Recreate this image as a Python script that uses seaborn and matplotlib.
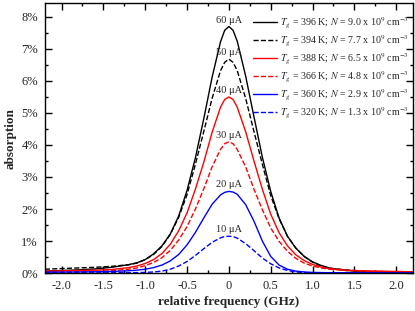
import matplotlib
matplotlib.use("Agg")
import matplotlib.pyplot as plt
import seaborn as sns
from matplotlib.ticker import MultipleLocator, PercentFormatter

# relative frequency (GHz)
freq = [-2.2, -2.0, -1.8, -1.6, -1.4, -1.2, -1.1, -1.0, -0.9, -0.8, -0.7, -0.6,
        -0.5, -0.4, -0.3, -0.2, -0.1, -0.05, 0.0, 0.05, 0.1, 0.2, 0.3, 0.4, 0.5,
        0.6, 0.7, 0.8, 0.9, 1.0, 1.1, 1.2, 1.4, 1.6, 1.8, 2.0, 2.2]

# absorption (%) for each discharge current
abs_60 = [0.06, 0.08, 0.10, 0.13, 0.18, 0.26, 0.32, 0.42, 0.60, 0.85, 1.22, 1.78,
          2.58, 3.60, 4.82, 6.12, 7.22, 7.58, 7.70, 7.58, 7.24, 6.16, 4.88, 3.62,
          2.55, 1.72, 1.15, 0.78, 0.52, 0.35, 0.24, 0.16, 0.08, 0.05, 0.03, 0.02, 0.02]
abs_50 = [0.12, 0.14, 0.16, 0.18, 0.21, 0.26, 0.31, 0.42, 0.58, 0.83, 1.21, 1.74,
          2.45, 3.40, 4.42, 5.46, 6.32, 6.58, 6.68, 6.58, 6.32, 5.46, 4.42, 3.40,
          2.42, 1.70, 1.15, 0.78, 0.52, 0.34, 0.22, 0.15, 0.10, 0.05, 0.03, 0.02, 0.02]
abs_40 = [0.06, 0.07, 0.08, 0.09, 0.11, 0.17, 0.22, 0.30, 0.42, 0.61, 0.90, 1.32,
          1.88, 2.62, 3.46, 4.40, 5.18, 5.42, 5.50, 5.42, 5.18, 4.42, 3.50, 2.62,
          1.84, 1.26, 0.85, 0.57, 0.39, 0.27, 0.19, 0.14, 0.09, 0.07, 0.06, 0.05, 0.04]
abs_30 = [0.03, 0.035, 0.04, 0.05, 0.07, 0.12, 0.16, 0.23, 0.33, 0.48, 0.71, 1.03,
          1.45, 2.00, 2.63, 3.32, 3.86, 4.04, 4.10, 4.04, 3.86, 3.32, 2.62, 1.98,
          1.41, 0.99, 0.68, 0.46, 0.31, 0.22, 0.16, 0.12, 0.08, 0.06, 0.05, 0.04, 0.03]
abs_20 = [0.03, 0.03, 0.035, 0.04, 0.05, 0.07, 0.09, 0.12, 0.17, 0.25, 0.38, 0.58,
          0.88, 1.27, 1.72, 2.15, 2.44, 2.52, 2.55, 2.53, 2.46, 2.14, 1.62, 1.00,
          0.52, 0.25, 0.12, 0.06, 0.035, 0.02, 0.015, 0.01, 0.01, 0.01, 0.005, 0.005, 0.005]
abs_10 = [0.005, 0.005, 0.005, 0.005, 0.01, 0.01, 0.015, 0.02, 0.035, 0.06, 0.12, 0.22,
          0.36, 0.55, 0.76, 0.96, 1.10, 1.14, 1.15, 1.14, 1.09, 0.92, 0.70, 0.47,
          0.29, 0.16, 0.08, 0.035, 0.015, 0.005, 0.0, 0.0, 0.0, 0.0, 0.0, 0.0, 0.0]

currents = ["60 \u03bcA", "50 \u03bcA", "40 \u03bcA", "30 \u03bcA", "20 \u03bcA", "10 \u03bcA"]
temps = [396, 394, 388, 366, 360, 320]
densities = ["9.0", "7.7", "6.5", "4.8", "2.9", "1.3"]
series = [abs_60, abs_50, abs_40, abs_30, abs_20, abs_10]
colors = ["black", "black", "red", "red", "blue", "blue"]
styles = ["-", "--", "-", "--", "-", "--"]

sns.set_style("ticks")
plt.rcParams["font.family"] = ["Liberation Serif", "DejaVu Serif"]
plt.rcParams["mathtext.fontset"] = "stix"

fig = plt.figure(figsize=(4.15, 3.11), dpi=100)
ax = fig.add_axes([0.108, 0.122, 0.887, 0.868])

for y, c, ls, t, n, cur in zip(series, colors, styles, temps, densities, currents):
    lab = r"$T_g$ = %d K; $N$ = %s x 10$^9$ cm$^{-3}$" % (t, n)
    sns.lineplot(x=freq, y=y, color=c, linestyle=ls, linewidth=1.0, label=lab, ax=ax)
    ax.text(0, max(y) + 0.06, cur, ha="center", va="bottom", fontsize=7.5)

ax.set_xlim(-2.2, 2.2)
ax.set_ylim(0, 8.43)
ax.xaxis.set_major_locator(MultipleLocator(0.5))
ax.xaxis.set_minor_locator(MultipleLocator(0.25))
ax.yaxis.set_major_locator(MultipleLocator(1))
ax.yaxis.set_minor_locator(MultipleLocator(0.5))
ax.yaxis.set_major_formatter(PercentFormatter(xmax=100, decimals=0))
ax.set_xticks([-2.0, -1.5, -1.0, -0.5, 0, 0.5, 1.0, 1.5, 2.0])
ax.set_xticklabels(["-2.0", "-1.5", "-1.0", "-0.5", "0", "0.5", "1.0", "1.5", "2.0"])
ax.tick_params(which="both", direction="in", top=True, right=True, labelsize=9,
               width=1.0, color="black")
ax.tick_params(which="major", length=5, pad=5)
ax.tick_params(which="minor", length=2.5)
for s in ax.spines.values():
    s.set_linewidth(1.0)
    s.set_color("black")

ax.set_xlabel("relative frequency (GHz)", fontsize=9.5, fontweight="bold", labelpad=3)
ax.set_ylabel("absorption", fontsize=9.5, fontweight="bold", labelpad=3)

ax.legend(loc="upper right", frameon=False, fontsize=7.2, handlelength=2.4,
          labelspacing=0.3, handletextpad=0.3, borderaxespad=0.7,
          bbox_to_anchor=(1.02, 0.995))

fig.savefig("out.png", dpi=100)
